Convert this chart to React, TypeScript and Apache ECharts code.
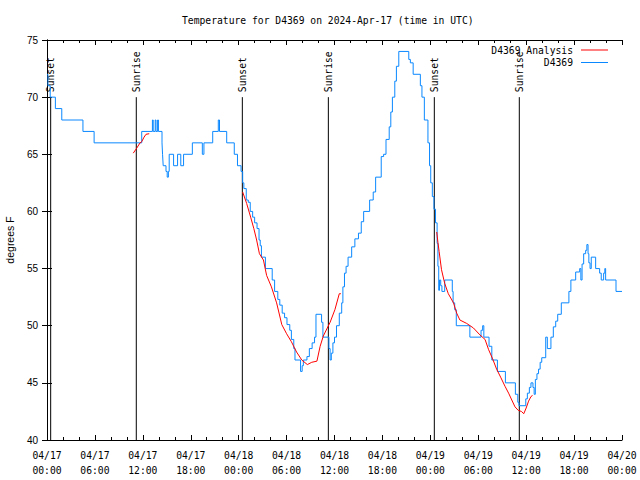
import React, { useEffect, useRef } from "react";
import * as echarts from "echarts";

const titleText = "Temperature for D4369 on 2024-Apr-17 (time in UTC)";
const yAxisName = "degrees F";
const xTickLabels = [
  "04/17\n00:00", "04/17\n06:00", "04/17\n12:00", "04/17\n18:00",
  "04/18\n00:00", "04/18\n06:00", "04/18\n12:00", "04/18\n18:00",
  "04/19\n00:00", "04/19\n06:00", "04/19\n12:00", "04/19\n18:00",
  "04/20\n00:00",
];

// sunrise / sunset, hours since 04/17 00:00 UTC
const sunHours = [0.46, 11.18, 24.46, 35.23, 48.5, 59.14];
const sunLabels = ["Sunset", "Sunrise", "Sunset", "Sunrise", "Sunset", "Sunrise"];

// observed temperature D4369: [hour, degF] (level start times)
const obsPoints: [number, number][] = [
  [0, 72], [0.12, 71], [0.4, 70], [1.05, 69], [1.85, 68], [4.5, 67], [5.9, 66],
  [11.86, 67], [13.2, 68], [13.3, 67], [13.55, 68], [13.65, 67], [13.85, 68], [13.95, 67],
  [14.4, 66], [14.47, 65], [14.55, 64], [14.9, 63.5], [15.05, 63], [15.2, 63.5], [15.3, 65],
  [15.85, 64], [16.35, 65], [16.75, 64], [17.1, 65], [18.2, 66], [19.45, 65], [19.65, 66],
  [20.75, 67], [21.45, 68], [21.6, 67], [22.5, 66], [23.45, 65], [23.85, 64], [24.3, 63.5],
  [24.5, 62.5], [24.65, 62], [24.95, 61], [25.2, 60.8], [25.45, 60], [25.75, 59.5], [26.0, 59],
  [26.3, 58.5], [26.55, 57.5], [26.7, 57], [26.85, 56], [27.35, 55], [28.2, 54], [28.5, 53],
  [28.9, 52.3], [29.15, 51.8], [29.45, 51.1], [29.75, 50.7], [30.05, 50.1], [30.4, 49.6],
  [30.6, 48.8], [30.9, 48], [31.05, 47], [31.75, 46], [31.95, 46.5], [32.1, 47], [32.55, 47.3],
  [32.85, 48], [33.2, 48.5], [33.5, 49], [33.68, 51], [34.38, 50.3], [34.55, 49], [35.3, 48],
  [35.45, 47], [35.6, 47.6], [35.8, 48.5], [36.0, 49], [36.25, 50], [36.6, 51.1], [36.9, 52],
  [37.05, 53.4], [37.25, 54.6], [37.45, 55.2], [37.7, 56], [38.15, 56.9], [38.55, 57.6],
  [39.0, 58.1], [39.35, 59.1], [39.65, 60], [40.4, 61], [40.85, 61.7], [41.15, 63], [41.85, 64.8],
  [42.15, 65], [42.45, 66.3], [42.85, 67.4], [43.05, 68.7], [43.25, 70], [43.55, 71.4],
  [43.75, 72.7], [44.05, 74], [45.3, 73.3], [45.5, 73], [45.85, 72], [46.75, 71], [46.95, 70],
  [47.25, 68], [47.7, 66], [47.9, 64], [48.05, 62.5], [48.25, 61.3], [48.45, 60.2], [48.65, 59],
  [48.85, 57.2], [48.95, 55.2], [49.05, 53.1], [49.15, 54], [49.3, 53.5], [49.45, 53], [49.8, 54],
  [50.75, 53], [50.85, 52], [51.05, 51.4], [51.25, 50], [52.95, 49], [54.35, 49.6], [54.55, 50],
  [54.7, 49], [55.35, 48.2], [55.7, 47], [56.4, 46], [57.4, 45], [58.65, 44], [58.95, 43.3],
  [59.1, 43], [59.95, 43.6], [60.15, 44.1], [60.4, 44.6], [60.6, 45], [60.85, 44.6], [61.0, 44],
  [61.15, 45.3], [61.35, 45.8], [61.55, 46.2], [61.75, 46.8], [61.95, 47.2], [62.45, 49],
  [62.65, 48], [63.1, 49], [63.4, 49.9], [63.7, 50.4], [63.95, 51], [64.4, 52], [65.35, 53],
  [65.6, 54], [66.2, 54.7], [66.7, 55], [66.85, 54], [67.0, 55.4], [67.2, 56.3], [67.45, 56.6],
  [67.6, 57.1], [67.75, 56.3], [67.85, 55.5], [68.0, 55], [68.15, 56], [68.7, 55], [69.2, 54.6],
  [69.4, 54], [69.7, 54.6], [69.85, 55], [69.95, 54], [71.25, 53], [72, 53],
];

// analysis D4369, three segments: [hour, degF]
const analysisSeg1: [number, number][] = [
  [10.8, 65.1], [11.2, 65.5], [11.65, 66.0], [11.86, 66.1], [12.15, 66.5], [12.4, 66.75], [12.8, 66.8],
];
const analysisSeg2: [number, number][] = [
  [24.5, 61.7], [25.0, 60.7], [25.5, 59.5], [25.9, 58.5], [26.25, 57.5], [26.6, 56.3], [27.1, 55.75],
  [27.5, 54.4], [28.1, 53.4], [28.75, 52.0], [29.4, 50.1], [30.0, 49.3], [30.6, 48.6], [31.25, 47.7],
  [31.9, 47.0], [32.6, 46.6], [33.15, 46.8], [33.8, 46.9], [34.2, 48.2], [34.6, 49.1], [35.45, 50.3],
  [36.05, 51.4], [36.6, 52.8], [36.8, 52.8],
];
const analysisSeg3: [number, number][] = [
  [48.8, 58.2], [48.95, 57.3], [49.1, 56.5], [49.4, 54.9], [49.8, 53.7], [50.25, 52.8], [50.9, 52.0],
  [51.3, 51.1], [51.7, 50.5], [52.55, 50.2], [53.4, 49.8], [54.2, 49.2], [54.85, 48.8], [55.3, 47.9],
  [55.8, 47.1], [56.3, 46.2], [56.8, 45.5], [57.35, 44.7], [57.8, 44.1], [58.2, 43.5], [58.6, 42.9],
  [59.0, 42.6], [59.4, 42.5], [59.7, 42.3], [60.0, 42.8], [60.3, 43.4], [60.6, 43.8], [60.8, 43.9],
];

const MONO = "'DejaVu Sans Mono', 'Liberation Mono', monospace";
const SANS = "'Liberation Sans', Arial, sans-serif";

export default function App() {
  const ref = useRef<HTMLDivElement>(null);

  useEffect(() => {
    document.body.style.margin = "0";
    if (!ref.current) return;
    const chart = echarts.init(ref.current, null, { renderer: "svg" });

    const analysisData: any[] = [
      ...analysisSeg1,
      [18, "-"],
      ...analysisSeg2,
      [42, "-"],
      ...analysisSeg3,
    ];

    const xCommon = {
      type: "value" as const,
      min: 0,
      max: 72,
      interval: 6,
      splitLine: { show: false },
      axisLine: { show: true, lineStyle: { color: "#000", width: 1 } },
      axisTick: { show: true, inside: true, length: 5, lineStyle: { color: "#000" } },
      minorTick: { show: true, splitNumber: 3, length: 3, lineStyle: { color: "#000" } },
    };
    const yCommon = {
      type: "value" as const,
      min: 40,
      max: 75,
      interval: 5,
      splitLine: { show: false },
      axisLine: { show: true, lineStyle: { color: "#000", width: 1 } },
      axisTick: { show: true, inside: true, length: 5, lineStyle: { color: "#000" } },
    };

    chart.setOption({
      animation: false,
      backgroundColor: "#fff",
      title: {
        text: titleText,
        left: 182,
        top: 14,
        padding: 0,
        textStyle: { fontFamily: MONO, fontSize: 9.7, fontWeight: "normal", color: "#000", lineHeight: 12 },
      },
      legend: {
        data: [
          { name: "D4369 Analysis", icon: "rect" },
          { name: "D4369", icon: "rect" },
        ],
        orient: "vertical",
        align: "right",
        right: 32,
        top: 45,
        padding: 0,
        itemWidth: 27,
        itemHeight: 1,
        itemGap: 2.5,
        textStyle: { fontFamily: MONO, fontSize: 9.7, color: "#000", lineHeight: 10, padding: [0, 3, 0, 0] },
      },
      grid: { left: 47, right: 18, top: 40, bottom: 40, containLabel: false, outerBoundsMode: "none" },
      xAxis: [
        {
          ...xCommon,
          position: "bottom",
          axisLabel: {
            show: true,
            margin: 8,
            fontFamily: MONO,
            fontSize: 9.7,
            color: "#000",
            lineHeight: 15,
            formatter: (v: number) => xTickLabels[Math.round(v / 6)] ?? "",
          },
        },
        { ...xCommon, position: "top", axisLabel: { show: false } },
      ],
      yAxis: [
        {
          ...yCommon,
          position: "left",
          name: yAxisName,
          nameLocation: "middle",
          nameGap: 31,
          nameTextStyle: { fontFamily: SANS, fontSize: 10.5, color: "#000" },
          axisLabel: { show: true, margin: 9, fontFamily: SANS, fontSize: 10, color: "#000" },
        },
        { ...yCommon, position: "right", axisLabel: { show: false } },
      ],
      series: [
        {
          type: "custom",
          name: "sun",
          xAxisIndex: 0,
          yAxisIndex: 0,
          silent: true,
          z: 1,
          data: sunHours.map((h) => [h, 70]),
          renderItem: (params: any, api: any) => {
            const h = api.value(0);
            const top = api.coord([h, 70]);
            const bot = api.coord([h, 40]);
            return {
              type: "group",
              children: [
                {
                  type: "line",
                  shape: { x1: top[0], y1: top[1], x2: bot[0], y2: bot[1] },
                  style: { stroke: "#000", lineWidth: 1 },
                },
                {
                  type: "text",
                  x: top[0],
                  y: top[1] - 5,
                  rotation: Math.PI / 2,
                  style: {
                    text: sunLabels[params.dataIndex],
                    textAlign: "left",
                    textVerticalAlign: "middle",
                    fontFamily: MONO,
                    fontSize: 9.7,
                    fill: "#000",
                  },
                },
              ],
            };
          },
        },
        {
          type: "line",
          name: "D4369 Analysis",
          xAxisIndex: 0,
          yAxisIndex: 0,
          data: analysisData,
          showSymbol: false,
          symbol: "none",
          connectNulls: false,
          z: 3,
          lineStyle: { color: "#ff0000", width: 1 },
          itemStyle: { color: "#ff0000" },
        },
        {
          type: "line",
          name: "D4369",
          xAxisIndex: 0,
          yAxisIndex: 0,
          data: obsPoints,
          step: "end",
          showSymbol: false,
          symbol: "none",
          z: 2,
          lineStyle: { color: "#0a88ff", width: 1 },
          itemStyle: { color: "#0a88ff" },
        },
      ],
    });

    return () => chart.dispose();
  }, []);

  return <div ref={ref} style={{ width: 640, height: 480, background: "#fff" }} />;
}
